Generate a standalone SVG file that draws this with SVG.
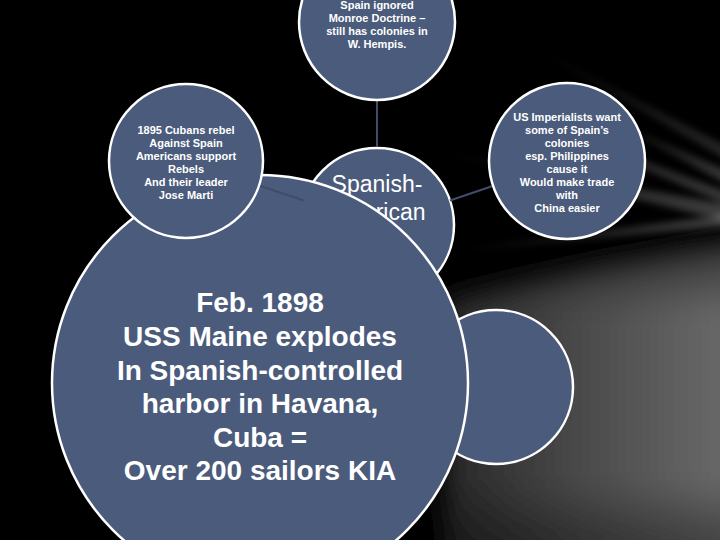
<svg xmlns="http://www.w3.org/2000/svg" width="720" height="540" viewBox="0 0 720 540">
  <defs>
    <style>
      .node { fill: #4b5b7b; stroke: #ffffff; stroke-width: 2.5; }
      .small { font-family: "Liberation Sans", Arial, sans-serif; font-size: 11px; font-weight: bold; fill: #ffffff; text-anchor: middle; }
      .mid { font-family: "Liberation Sans", Arial, sans-serif; font-size: 23px; fill: #ffffff; text-anchor: middle; }
      .big { font-family: "Liberation Sans", Arial, sans-serif; font-size: 28px; font-weight: bold; fill: #ffffff; text-anchor: middle; }
      .conn { stroke: #3f4c6a; stroke-width: 2; fill: none; }
    </style>
    <linearGradient id="floor" x1="440" y1="0" x2="720" y2="0" gradientUnits="userSpaceOnUse">
      <stop offset="0" stop-color="#262626"/>
      <stop offset="0.5" stop-color="#4a4a4a"/>
      <stop offset="1" stop-color="#686868"/>
    </linearGradient>
    <linearGradient id="shade" x1="0" y1="240" x2="0" y2="540" gradientUnits="userSpaceOnUse">
      <stop offset="0" stop-color="#000" stop-opacity="0.55"/>
      <stop offset="0.25" stop-color="#000" stop-opacity="0"/>
      <stop offset="0.8" stop-color="#000" stop-opacity="0"/>
      <stop offset="1" stop-color="#000" stop-opacity="0.35"/>
    </linearGradient>
    <linearGradient id="ray" x1="0" y1="0" x2="1" y2="0">
      <stop offset="0" stop-color="#ffffff" stop-opacity="0"/>
      <stop offset="1" stop-color="#ffffff" stop-opacity="0.5"/>
    </linearGradient>
    <filter id="blur" x="-30%" y="-30%" width="160%" height="160%">
      <feGaussianBlur stdDeviation="12"/>
    </filter>
    <filter id="blur2" x="-20%" y="-80%" width="140%" height="260%">
      <feGaussianBlur stdDeviation="3.5"/>
    </filter>
  </defs>

  <!-- background -->
  <rect x="0" y="0" width="720" height="540" fill="#000000"/>
  <g id="background">
    <g filter="url(#blur)">
      <polygon points="445,300 600,268 760,240 760,580 445,580" fill="url(#floor)"/>
      <rect x="420" y="230" width="340" height="350" fill="url(#shade)"/>
    </g>
    <polygon points="430,150 730,205 730,222" fill="url(#ray)" opacity="0.5" filter="url(#blur2)"/>
    <polygon points="470,95 730,193 730,206" fill="url(#ray)" opacity="0.45" filter="url(#blur2)"/>
    <polygon points="520,40 730,148 730,162" fill="url(#ray)" opacity="0.3" filter="url(#blur2)"/>
    <polygon points="440,252 730,214 730,226" fill="url(#ray)" opacity="0.5" filter="url(#blur2)"/>
    <polygon points="600,115 730,172 730,186" fill="url(#ray)" opacity="0.45" filter="url(#blur2)"/>
  </g>

  <!-- lower nodes (under the main circle) -->
  <g id="node-center">
    <circle class="node" cx="377" cy="225" r="77"/>
    <text class="mid" x="377" y="192">Spanish-</text>
    <text class="mid" x="377" y="219.6">American</text>
  </g>
  <g id="node-bottom-right">
    <circle class="node" cx="496" cy="387" r="77"/>
  </g>

  <g id="node-main">
    <circle class="node" cx="260" cy="383" r="208"/>
    <text class="big" x="260" y="312">Feb. 1898</text>
    <text class="big" x="260" y="346">USS Maine explodes</text>
    <text class="big" x="260" y="379.5">In Spanish-controlled</text>
    <text class="big" x="260" y="413">harbor in Havana,</text>
    <text class="big" x="260" y="446.5">Cuba =</text>
    <text class="big" x="260" y="480">Over 200 sailors KIA</text>
  </g>

  <g id="connectors">
    <line class="conn" x1="377" y1="100" x2="377" y2="147" stroke-width="1.5"/>
    <line class="conn" x1="259" y1="185.5" x2="304" y2="200.5"/>
    <line class="conn" x1="450" y1="200.5" x2="494" y2="185.5"/>
  </g>

  <g id="node-top">
    <circle class="node" cx="377" cy="22" r="78"/>
    <text class="small" x="377" y="8.5">Spain ignored</text>
    <text class="small" x="377" y="21.5">Monroe Doctrine –</text>
    <text class="small" x="377" y="34.5">still has colonies in</text>
    <text class="small" x="377" y="47.5">W. Hempis.</text>
  </g>

  <g id="node-left">
    <circle class="node" cx="186" cy="161" r="77"/>
    <text class="small" x="186" y="134">1895 Cubans rebel</text>
    <text class="small" x="186" y="147">Against Spain</text>
    <text class="small" x="186" y="160">Americans support</text>
    <text class="small" x="186" y="173">Rebels</text>
    <text class="small" x="186" y="186">And their leader</text>
    <text class="small" x="186" y="199">Jose Marti</text>
  </g>

  <g id="node-right">
    <circle class="node" cx="567" cy="161" r="78"/>
    <text class="small" x="567" y="121">US Imperialists want</text>
    <text class="small" x="567" y="134">some of Spain’s</text>
    <text class="small" x="567" y="147">colonies</text>
    <text class="small" x="567" y="160">esp. Philippines</text>
    <text class="small" x="567" y="173">cause it</text>
    <text class="small" x="567" y="186">Would make trade</text>
    <text class="small" x="567" y="199">with</text>
    <text class="small" x="567" y="212">China easier</text>
  </g>
</svg>
